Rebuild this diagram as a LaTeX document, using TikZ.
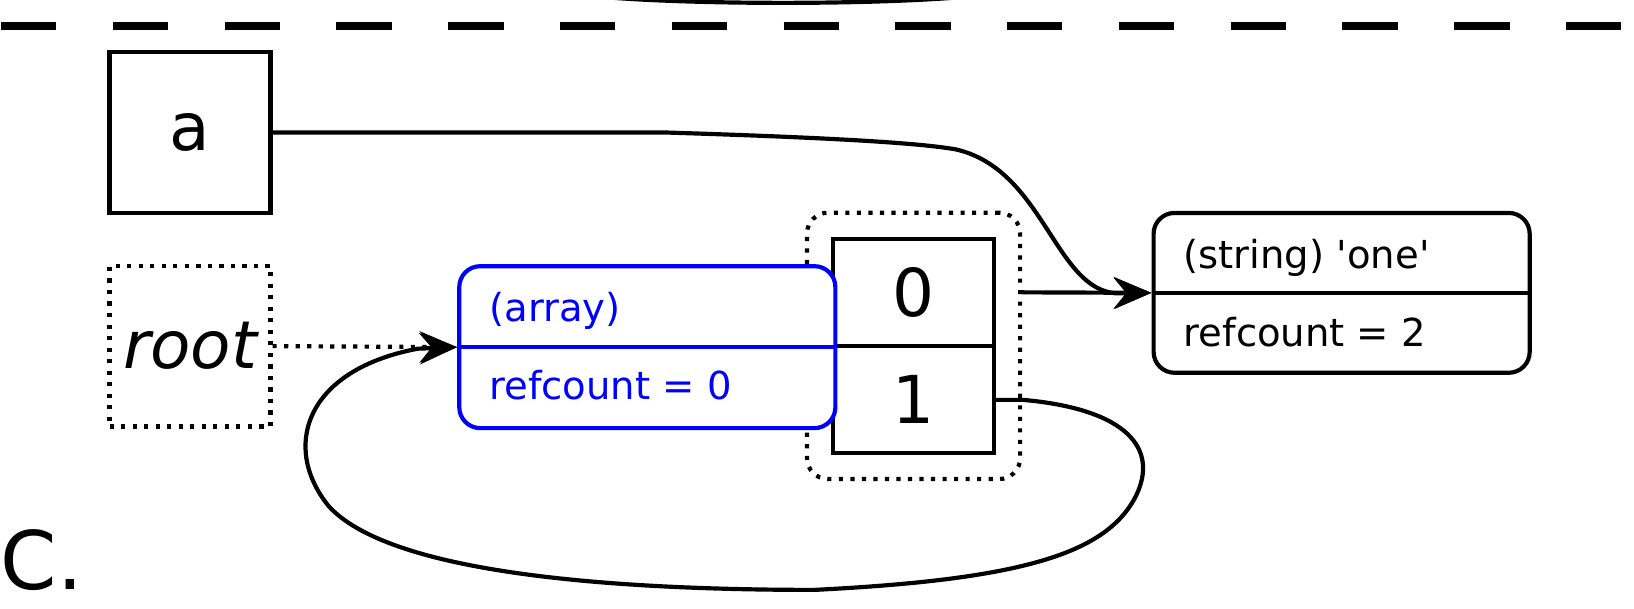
\documentclass[tikz,border=0pt]{standalone}
\usepackage{fontspec}
\setmainfont{DejaVu Sans}
\usetikzlibrary{arrows.meta,fit,positioning}

\tikzset{
	varbox/.style={draw, line width=0.04cm, minimum width=1.54cm, minimum height=1.54cm, inner sep=0pt, font=\fontsize{18}{20}\selectfont},
	cellbox/.style={draw, line width=0.04cm, minimum width=1.54cm, minimum height=1.025cm, inner sep=0pt, outer sep=0pt, font=\fontsize{18}{20}\selectfont},
	objbox/.style={draw, fill=white, line width=0.04cm, rounded corners=0.2cm, minimum width=3.6cm, inner sep=0pt},
	objtext/.style={anchor=base west, inner sep=0pt, font=\fontsize{10.5}{12}\selectfont},
	ptr/.style={line width=0.04cm, -{Stealth[length=0.36cm, width=0.3cm, inset=0.12cm]}},
	sepline/.style={line width=0.08cm, dash pattern=on 0.53cm off 0.54cm}
}

\begin{document}
\begin{tikzpicture}[x=0.01cm, y=-0.01cm]
	\useasboundingbox (0,0) rectangle (1565,583);
	\draw[line width=0.04cm] (565,-4) .. controls (655,5) and (845,5) .. (935,-4);
	\draw[sepline] (1,25) -- (1565,25);

	\node[varbox] (a) at (182,127) {a};
	\node[varbox, dotted] (root) at (182,331.5) {\itshape root};

	\node[cellbox] (c0) at (875,280) {0};
	\node[cellbox, below=0pt of c0] (c1) {1};
	\node[draw, dotted, line width=0.04cm, rounded corners=0.2cm, fit=(c0)(c1), inner sep=0.25cm] (idx) {};

	\node[objbox, draw=blue, minimum height=1.55cm] (arr) at (620,332.5) {};
	\draw[blue, line width=0.04cm] (arr.west) -- (arr.east);
	\node[objtext, text=blue] (arrtype) at (468,308) {(array)};
	\node[objtext, text=blue] (arrref) at (468,383) {refcount = 0};

	\node[objbox, minimum height=1.53cm] (str) at (1285,280.5) {};
	\draw[line width=0.04cm] (str.west) -- (str.east);
	\node[objtext] (strtype) at (1133,257) {(string) \textquotesingle one\textquotesingle};
	\node[objtext] (strref) at (1133,332) {refcount = 2};

	\node[anchor=base west, inner sep=0pt, font=\fontsize{22}{24}\selectfont] (lbl) at (0,565) {C.};

	\draw[ptr, dotted] (root.east) -- (arr.west);
	\draw[ptr] (idx.east |- c0) -- (str.west);
	\draw[ptr] (a.east) -- (640,127) .. controls (800,132) and (880,137) .. (915,143)
		.. controls (1000,162) and (1010,278) .. (1070,281) -- (str.west);
	\draw[ptr] (c1.east |- 0,383) -- (980,383) .. controls (1080,392) and (1110,430) .. (1088,475)
		.. controls (1060,530) and (980,555) .. (780,565)
		.. controls (560,565) and (370,545) .. (315,485)
		.. controls (270,430) and (290,355) .. (400,334) -- (arr.west);
\end{tikzpicture}
\end{document}
